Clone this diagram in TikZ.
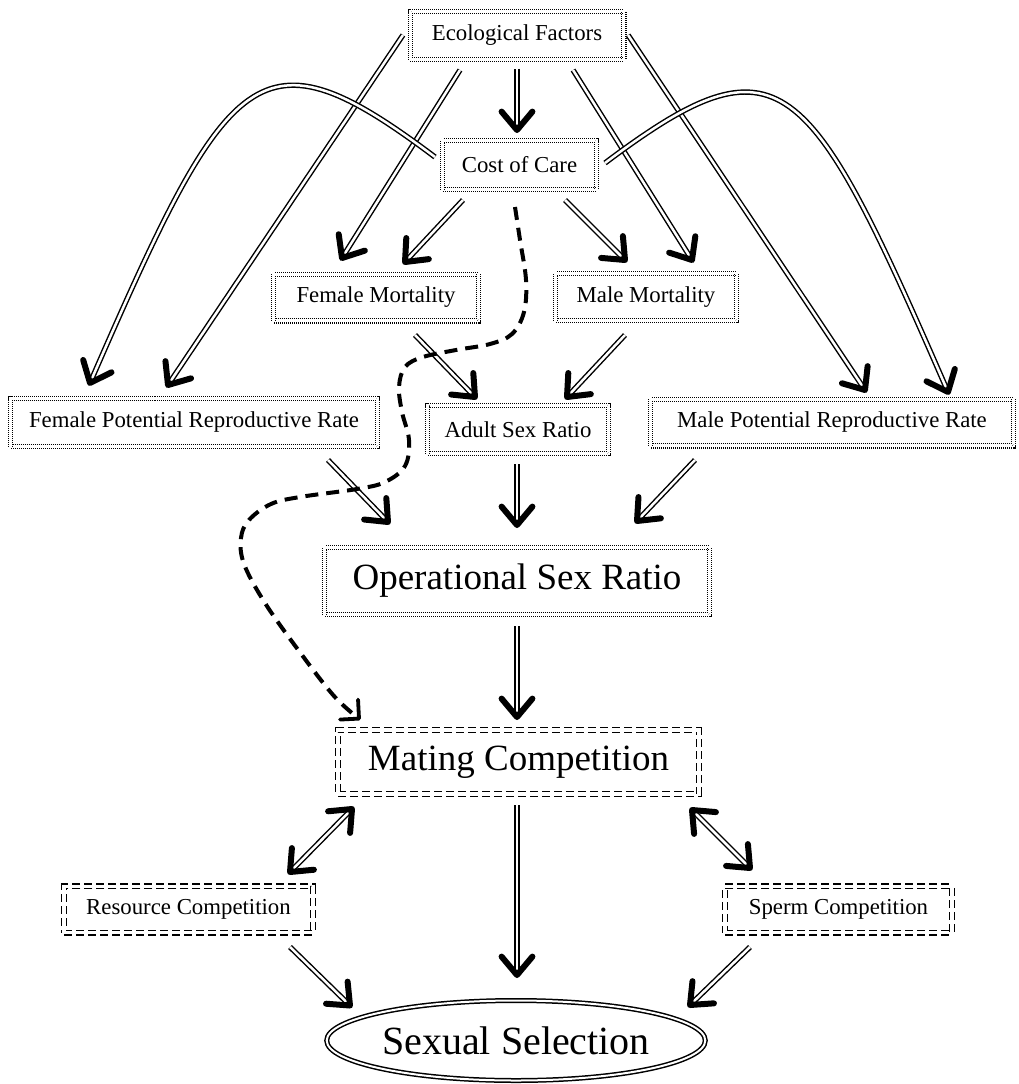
\documentclass[tikz,border=0pt]{standalone}
\usepackage{fontspec}
\setmainfont{Liberation Serif}
\usetikzlibrary{calc,shapes.geometric}
\tikzset{
  box/.style={draw, double, double distance=3pt, line width=1.2pt,
    dash pattern=on 1pt off 1pt, inner sep=0pt,
    font=\fontsize{22.8}{27}\selectfont},
  bigbox/.style={box, font=\fontsize{37}{42}\selectfont},
  dbox/.style={draw, double, double distance=3.5pt, line width=1.3pt,
    dash pattern=on 8pt off 4pt, inner sep=0pt,
    font=\fontsize{22.8}{27}\selectfont},
  bigdbox/.style={dbox, font=\fontsize{37}{42}\selectfont},
  ovalbox/.style={draw, ellipse, double, double distance=2pt, line width=1.5pt,
    inner sep=0pt, font=\fontsize{40}{46}\selectfont},
  shaft/.style={draw, double, double distance=2.5pt, line width=1.45pt},
  head/.style={draw, line width=6pt, line cap=round, line join=round},
  dashcurve/.style={draw, line width=4pt, dash pattern=on 13pt off 8pt},
  dhead/.style={draw, line width=3.8pt, line cap=round, line join=round}
}
\newcommand\arr[2]{%
  \path (#1) coordinate (tl) (#2) coordinate (hd);
  \draw[shaft] (tl) -- (hd);
  \draw[head] ($(hd)!24pt!40:(tl)$) -- (hd) -- ($(hd)!24pt!-40:(tl)$);}
\newcommand\darr[2]{%
  \path (#1) coordinate (tl) (#2) coordinate (hd);
  \draw[shaft] (tl) -- (hd);
  \draw[head] ($(hd)!24pt!40:(tl)$) -- (hd) -- ($(hd)!24pt!-40:(tl)$);
  \draw[head] ($(tl)!24pt!40:(hd)$) -- (tl) -- ($(tl)!24pt!-40:(hd)$);}
\newcommand\carr[4]{%
  \path (#1) coordinate (tl) (#4) coordinate (hd);
  \draw[shaft] (tl) .. controls (#2) and (#3) .. (hd);
  \draw[head] ($(hd)!24pt!40:(#3)$) -- (hd) -- ($(hd)!24pt!-40:(#3)$);}
\begin{document}
\begin{tikzpicture}[x=1pt,y=-1pt]
\useasboundingbox (0,0) rectangle (1019,1084);
% nodes
\node[box, minimum width=213.6pt, minimum height=47.6pt] (eco) at (517,35.5) {Ecological Factors};
\node[box, minimum width=153.6pt, minimum height=48.6pt] (cost) at (519.5,165) {Cost of Care};
\node[box, minimum width=204.6pt, minimum height=46.6pt] (fmort) at (376,297.5) {Female Mortality};
\node[box, minimum width=180.6pt, minimum height=46.6pt] (mmort) at (646,297) {Male Mortality};
\node[box, minimum width=366.6pt, minimum height=47.6pt] (fprr) at (194,422.5) {Female Potential Reproductive Rate};
\node[box, minimum width=180.6pt, minimum height=47.6pt] (asr) at (518,429.5) {Adult Sex Ratio};
\node[box, minimum width=362.6pt, minimum height=46.6pt] (mprr) at (832,422.5) {Male Potential Reproductive Rate};
\node[bigbox, minimum width=384.6pt, minimum height=66.6pt] (osr) at (517,581) {Operational Sex Ratio};
\node[bigdbox, minimum width=360.9pt, minimum height=63.9pt] (mc) at (518.5,762) {Mating Competition};
\node[dbox, minimum width=248.9pt, minimum height=46.4pt] (rc) at (188.5,909.5) {Resource Competition};
\node[dbox, minimum width=226.9pt, minimum height=46.4pt] (sc) at (838.5,909.5) {Sperm Competition};
\node[ovalbox, minimum width=370pt, minimum height=80pt] (ss) at (516,1040.5) {Sexual Selection};
% connectors
\arr{$(eco)+(0,33)$}{$(cost)+(-2.5,-35)$}
\arr{$(eco)+(-57,34.5)$}{$(fmort)+(-34,-39.5)$}
\arr{$(eco)+(56,34.5)$}{$(mmort)+(46,-37)$}
\arr{$(eco)+(-114,-0.5)$}{$(fprr)+(-26,-37.5)$}
\arr{$(eco)+(111,-0.5)$}{$(mprr)+(33,-32.5)$}
\arr{$(cost)+(-56.5,35)$}{$(fmort)+(29,-35.5)$}
\arr{$(cost)+(45.5,35)$}{$(mmort)+(-21,-37)$}
\carr{$(cost)+(-84.5,-8)$}{259,25}{230,61}{$(fprr)+(-104,-39.5)$}
\carr{$(cost)+(85.5,-2)$}{781,31}{808,70}{$(mprr)+(116,-30.5)$}
\arr{$(fmort)+(39,37.5)$}{$(asr)+(-43,-32.5)$}
\arr{$(mmort)+(-21,38)$}{$(asr)+(49,-32.5)$}
\arr{$(fprr)+(134,37.5)$}{$(osr)+(-129,-59)$}
\arr{$(asr)+(-1,34.5)$}{$(osr)+(0,-56)$}
\arr{$(mprr)+(-137,37.5)$}{$(osr)+(120,-60)$}
\arr{$(osr)+(0,45)$}{$(mc)+(-1.5,-45)$}
\darr{$(mc)+(-166.5,47)$}{$(rc)+(101.5,-37.5)$}
\darr{$(mc)+(173.5,48)$}{$(sc)+(-88.5,-41.5)$}
\arr{$(mc)+(-1.5,43)$}{$(ss)+(1,-65.5)$}
\arr{$(rc)+(101.5,37.5)$}{$(ss)+(-166,-35)$}
\arr{$(sc)+(-88.5,37.5)$}{$(ss)+(174,-35.5)$}
% dashed connector cost -> mating competition
\coordinate (d0) at ($(cost)+(-4.5,42)$);
\coordinate (d1) at ($(mc)+(-159.5,-43.4)$);
\coordinate (dp) at (334,696);
\draw[dashcurve] plot[smooth, tension=0.6] coordinates {(d0) (520,240) (526,280) (524,312) (512,334) (490,344) (456,350) (423,357) (405,367) (399,387) (402,412) (409,440) (405,466) (385,482) (357,489) (300,497) (271,504) (249,520) (241,538) (244,564) (265,603) (299,651) (dp) (d1)};
\draw[dhead] ($(d1)!19pt!45:(dp)$) -- (d1) -- ($(d1)!19pt!-45:(dp)$);
\end{tikzpicture}
\end{document}
